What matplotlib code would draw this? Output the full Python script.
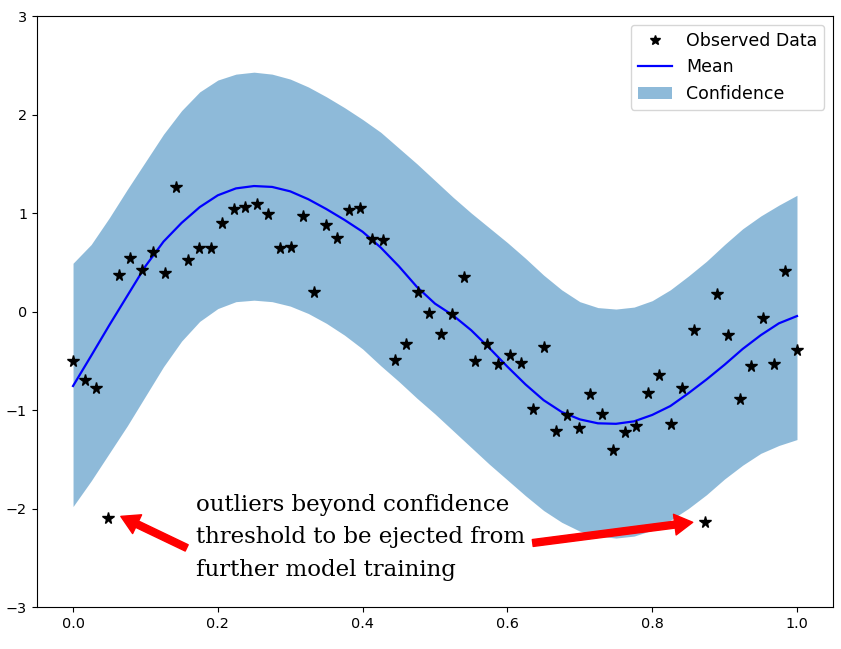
import matplotlib
matplotlib.use('Agg')
import matplotlib.pyplot as plt
import matplotlib.patches as mpatches
from matplotlib.lines import Line2D
import numpy as np

# observed points (evenly spaced on [0, 1])
y_obs = [-0.50, -0.70, -0.78, -2.10, 0.37, 0.54, 0.42, 0.60, 0.39, 1.26,
         0.52, 0.64, 0.64, 0.90, 1.04, 1.06, 1.09, 0.99, 0.64, 0.65,
         0.97, 0.20, 0.88, 0.75, 1.03, 1.05, 0.74, 0.73, -0.49, -0.33,
         0.20, -0.01, -0.23, -0.03, 0.35, -0.50, -0.33, -0.53, -0.44, -0.52,
         -0.99, -0.36, -1.21, -1.05, -1.18, -0.84, -1.04, -1.41, -1.22, -1.16,
         -0.83, -0.64, -1.14, -0.78, -0.19, -2.14, 0.18, -0.24, -0.89, -0.55,
         -0.07, -0.53, 0.41, -0.39]
x_obs = np.linspace(0, 1, len(y_obs))

# posterior mean and confidence band, read every 0.025
mean = [-0.756, -0.45, -0.14, 0.16, 0.46, 0.71, 0.90, 1.06, 1.18, 1.25,
        1.274, 1.265, 1.22, 1.14, 1.04, 0.93, 0.81, 0.65, 0.46, 0.25,
        0.08, -0.04, -0.19, -0.37, -0.56, -0.74, -0.90, -1.02, -1.095, -1.135,
        -1.14, -1.115, -1.05, -0.96, -0.83, -0.69, -0.54, -0.38, -0.24, -0.12,
        -0.046]
upper = [0.49, 0.68, 0.95, 1.24, 1.52, 1.80, 2.04, 2.23, 2.35, 2.41,
         2.43, 2.41, 2.36, 2.28, 2.18, 2.07, 1.95, 1.82, 1.66, 1.50,
         1.33, 1.16, 1.00, 0.85, 0.70, 0.54, 0.37, 0.22, 0.10, 0.04,
         0.025, 0.045, 0.11, 0.22, 0.36, 0.51, 0.68, 0.84, 0.97, 1.08,
         1.18]
lower = [-1.98, -1.72, -1.44, -1.16, -0.86, -0.56, -0.30, -0.10, 0.03, 0.10,
         0.115, 0.10, 0.055, -0.02, -0.12, -0.24, -0.38, -0.55, -0.71, -0.88,
         -1.04, -1.21, -1.38, -1.55, -1.71, -1.87, -2.02, -2.14, -2.23, -2.28,
         -2.30, -2.28, -2.22, -2.12, -2.00, -1.86, -1.70, -1.56, -1.44, -1.36,
         -1.30]
x_grid = np.linspace(0, 1, len(mean))

fig = plt.figure(figsize=(8.41, 6.49), dpi=100)
ax = fig.add_axes([0.0438, 0.0647, 0.9469, 0.9106])

ax.fill_between(x_grid, lower, upper, color='C0', alpha=0.5, lw=0, zorder=1)
ax.plot(x_grid, mean, 'b', lw=1.6, zorder=2)
ax.plot(x_obs, y_obs, 'k*', ms=8.5, zorder=3)
ax.set_ylim(-3, 3)
ax.tick_params(labelsize=10.4)

handles = [Line2D([], [], color='k', marker='*', ls='', ms=7.5),
           Line2D([], [], color='b', lw=1.6),
           mpatches.Patch(color='C0', alpha=0.5, lw=0)]
ax.legend(handles, ['Observed Data', 'Mean', 'Confidence'],
          loc='upper right', fontsize=12.5)

# annotation of the two outliers
ax.text(0.17, -1.85, 'outliers beyond confidence\nthreshold to be ejected from\nfurther model training',
        family='DejaVu Serif', fontsize=16.5, va='top', ha='left', linespacing=1.62)
arrow = dict(facecolor='red', edgecolor='red', width=5, headwidth=15, headlength=13, shrink=0)
ax.annotate('', xy=(0.066, -2.08), xytext=(0.157, -2.40), arrowprops=arrow)
ax.annotate('', xy=(0.856, -2.14), xytext=(0.635, -2.35), arrowprops=arrow)

plt.savefig('out.png', dpi=100)
